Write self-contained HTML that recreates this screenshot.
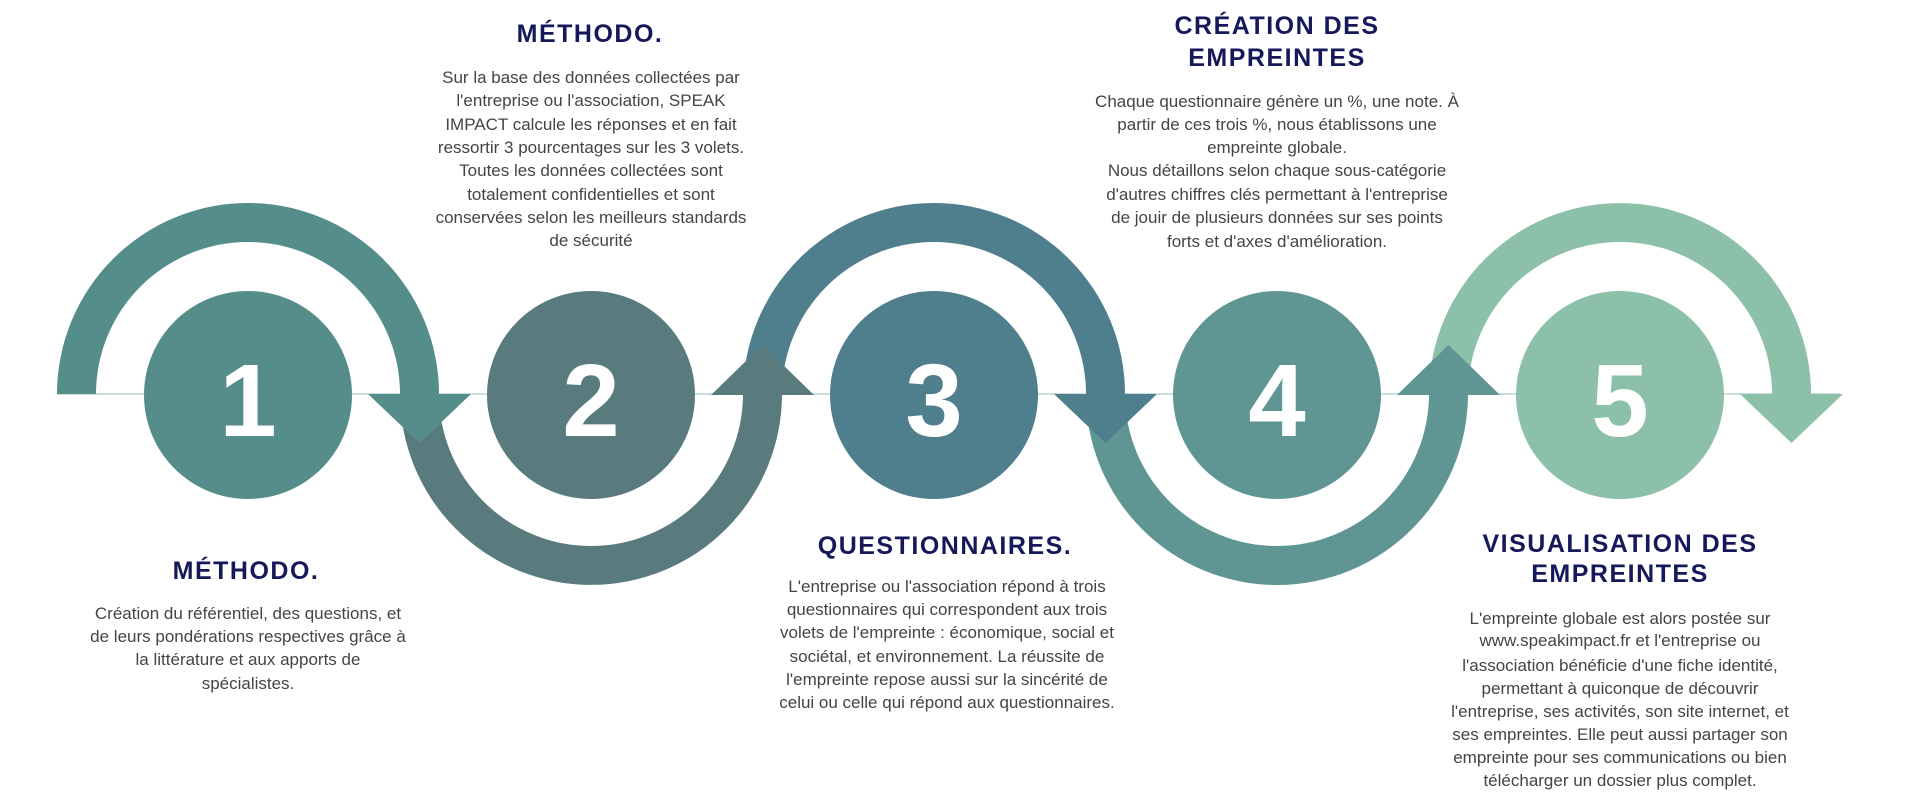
<!DOCTYPE html>
<html><head><meta charset="utf-8"><style>
html,body{margin:0;padding:0;background:#fff;width:1920px;height:800px;overflow:hidden}
svg{display:block}
.t{font-family:"Liberation Sans",sans-serif;font-weight:bold;font-size:25px;fill:#15195a;letter-spacing:1.5px;text-anchor:middle}
.b{font-family:"Liberation Sans",sans-serif;font-size:17px;fill:#444;text-anchor:middle}
.n{font-family:"Liberation Sans",sans-serif;font-weight:bold;font-size:103px;fill:#fff;text-anchor:middle}
</style></head><body>
<svg width="1920" height="800" viewBox="0 0 1920 800">
<line x1="57" y1="394" x2="1840" y2="394" stroke="#c9dede" stroke-width="2"/>
<path d="M57,394 A191,191 0 0 1 439,394 L400,394 A152,152 0 0 0 96,394 Z" fill="#558d8a"/>
<path d="M400,394 A191,191 0 0 0 782,394 L743,394 A152,152 0 0 1 439,394 Z" fill="#5a7b7e"/>
<path d="M743,394 A191,191 0 0 1 1125,394 L1086,394 A152,152 0 0 0 782,394 Z" fill="#4f7f8d"/>
<path d="M1086,394 A191,191 0 0 0 1468,394 L1429,394 A152,152 0 0 1 1125,394 Z" fill="#5f9592"/>
<path d="M1429,394 A191,191 0 0 1 1811,394 L1772,394 A152,152 0 0 0 1468,394 Z" fill="#8cc0a8"/>
<polygon points="368,394 471,394 419.5,443" fill="#558d8a"/>
<polygon points="711,395 814,395 762.5,345" fill="#5a7b7e"/>
<polygon points="1054,394 1157,394 1105.5,443" fill="#4f7f8d"/>
<polygon points="1397,395 1500,395 1448.5,345" fill="#5f9592"/>
<polygon points="1740,394 1843,394 1791.5,443" fill="#8cc0a8"/>
<circle cx="248" cy="395" r="104" fill="#558d8a"/>
<circle cx="591" cy="395" r="104" fill="#5a7b7e"/>
<circle cx="934" cy="395" r="104" fill="#4f7f8d"/>
<circle cx="1277" cy="395" r="104" fill="#5f9592"/>
<circle cx="1620" cy="395" r="104" fill="#8cc0a8"/>
<text class="n" x="248" y="436">1</text>
<text class="n" x="591" y="436">2</text>
<text class="n" x="934" y="436">3</text>
<text class="n" x="1277" y="436">4</text>
<text class="n" x="1620" y="436">5</text>

<text class="t" x="590" y="42">MÉTHODO.</text>
<g class="b">
<text x="591" y="83">Sur la base des données collectées par</text>
<text x="591" y="106">l'entreprise ou l'association, SPEAK</text>
<text x="591" y="130">IMPACT calcule les réponses et en fait</text>
<text x="591" y="153">ressortir 3 pourcentages sur les 3 volets.</text>
<text x="591" y="176">Toutes les données collectées sont</text>
<text x="591" y="200">totalement confidentielles et sont</text>
<text x="591" y="223">conservées selon les meilleurs standards</text>
<text x="591" y="246">de sécurité</text>
</g>

<text class="t" x="1277" y="34">CRÉATION DES</text>
<text class="t" x="1277" y="66">EMPREINTES</text>
<g class="b">
<text x="1277" y="107">Chaque questionnaire génère un %, une note. À</text>
<text x="1277" y="130">partir de ces trois %, nous établissons une</text>
<text x="1277" y="153">empreinte globale.</text>
<text x="1277" y="176">Nous détaillons selon chaque sous-catégorie</text>
<text x="1277" y="200">d'autres chiffres clés permettant à l'entreprise</text>
<text x="1277" y="223">de jouir de plusieurs données sur ses points</text>
<text x="1277" y="247">forts et d'axes d'amélioration.</text>
</g>

<text class="t" x="246" y="579">MÉTHODO.</text>
<g class="b">
<text x="248" y="619">Création du référentiel, des questions, et</text>
<text x="248" y="642">de leurs pondérations respectives grâce à</text>
<text x="248" y="665">la littérature et aux apports de</text>
<text x="248" y="689">spécialistes.</text>
</g>

<text class="t" x="945" y="554">QUESTIONNAIRES.</text>
<g class="b">
<text x="947" y="592">L'entreprise ou l'association répond à trois</text>
<text x="947" y="615">questionnaires qui correspondent aux trois</text>
<text x="947" y="638">volets de l'empreinte : économique, social et</text>
<text x="947" y="662">sociétal, et environnement.  La réussite de</text>
<text x="947" y="685">l'empreinte repose aussi sur la sincérité de</text>
<text x="947" y="708">celui ou celle qui répond aux questionnaires.</text>
</g>

<text class="t" x="1620" y="552">VISUALISATION DES</text>
<text class="t" x="1620" y="582">EMPREINTES</text>
<g class="b">
<text x="1620" y="624">L'empreinte globale est alors postée sur</text>
<text x="1620" y="646">www.speakimpact.fr et l'entreprise ou</text>
<text x="1620" y="671">l'association bénéficie d'une fiche identité,</text>
<text x="1620" y="694">permettant à quiconque de découvrir</text>
<text x="1620" y="717">l'entreprise, ses activités, son site internet, et</text>
<text x="1620" y="740">ses empreintes. Elle peut aussi partager son</text>
<text x="1620" y="763">empreinte pour ses communications ou bien</text>
<text x="1620" y="786">télécharger un dossier plus complet.</text>
</g>
</svg>
</body></html>
